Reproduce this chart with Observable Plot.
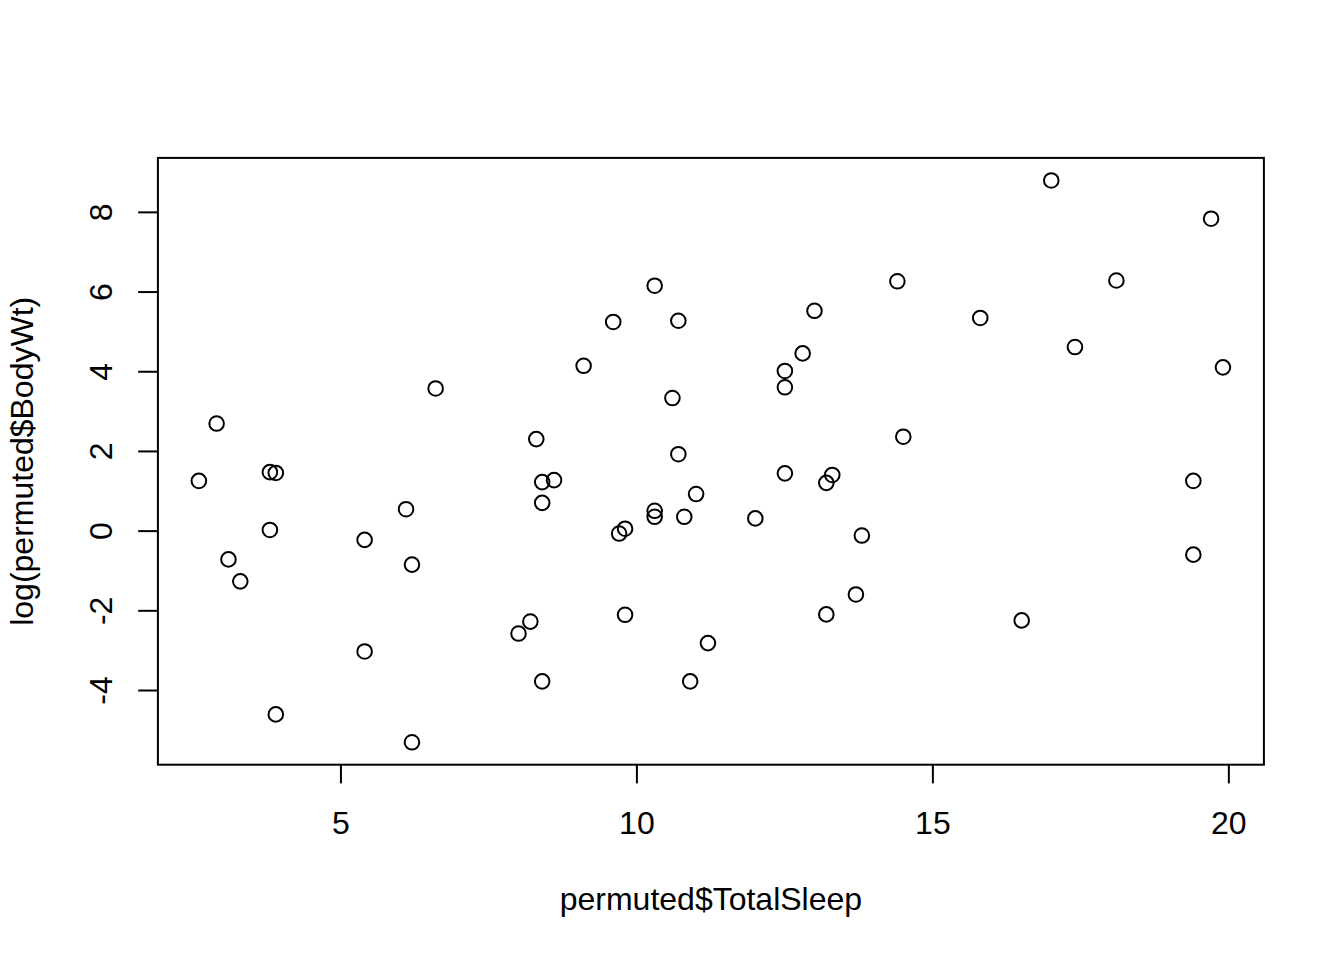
<!DOCTYPE html>
<html>
<head>
<meta charset="utf-8">
<script src="https://cdn.jsdelivr.net/npm/d3@7"></script>
<script src="https://cdn.jsdelivr.net/npm/@observablehq/plot@0.6"></script>
<style>
  html, body { margin: 0; padding: 0; background: white; }
  #chart svg { display: block; }
</style>
</head>
<body>
<div id="chart"></div>
<script>
const totalSleep = [2.6, 2.9, 3.1, 3.3, 3.8, 3.9, 3.8, 3.9, 5.4, 5.4, 6.1, 6.2, 6.2, 6.6, 8.0, 8.2, 8.3, 8.4, 8.6, 8.4, 8.4, 9.1, 9.6, 9.7, 9.8, 9.8, 10.3, 10.3, 10.3, 10.6, 10.7, 10.7, 10.8, 10.9, 11.0, 11.2, 12.0, 12.5, 12.5, 12.5, 12.8, 13.0, 13.2, 13.3, 13.2, 13.7, 13.8, 14.4, 14.5, 15.8, 16.5, 17.0, 17.4, 18.1, 19.4, 19.4, 19.7, 19.9];
const logBodyWt = [1.26, 2.70, -0.71, -1.26, 1.48, 1.46, 0.03, -4.60, -0.22, -3.02, 0.55, -0.84, -5.30, 3.58, -2.57, -2.27, 2.31, 1.23, 1.28, 0.71, -3.77, 4.15, 5.25, -0.06, 0.06, -2.10, 6.16, 0.51, 0.36, 3.34, 5.28, 1.93, 0.36, -3.77, 0.93, -2.81, 0.32, 4.02, 3.61, 1.45, 4.46, 5.53, 1.21, 1.41, -2.09, -1.59, -0.11, 6.27, 2.37, 5.35, -2.24, 8.80, 4.62, 6.29, 1.26, -0.59, 7.84, 4.11];
const xTicks = [5, 10, 15, 20];
const yTicks = [-4, -2, 0, 2, 4, 6, 8];
const xLabel = "permuted$TotalSleep";
const yLabel = "log(permuted$BodyWt)";

const data = totalSleep.map((s, i) => ({sleep: s, bw: logBodyWt[i]}));

const chart = Plot.plot({
  width: 1344,
  height: 960,
  marginLeft: 157.4,
  marginRight: 80.6,
  marginTop: 157.4,
  marginBottom: 195.8,
  style: {fontFamily: "'Liberation Sans', Arial, Helvetica, sans-serif", fontSize: "32px", background: "white", color: "black"},
  x: {domain: [1.908, 20.592], axis: null},
  y: {domain: [-5.862, 9.367], axis: null},
  marks: [
    Plot.frame({stroke: "black", strokeWidth: 2}),
    Plot.axisX({ticks: xTicks, tickSize: 19.2, tickPadding: 27.6, tickFormat: d => String(d), fontSize: 32, strokeWidth: 2, label: null}),
    Plot.axisY({ticks: yTicks, tickSize: 19.2, tickPadding: 26.2, tickRotate: -90, tickFormat: d => String(d), fontSize: 32, strokeWidth: 2, label: null}),
    Plot.dot(data, {x: "sleep", y: "bw", r: 7.3, stroke: "black", strokeWidth: 2, fill: "none"}),
    Plot.text([xLabel], {frameAnchor: "bottom", dy: 144.8, lineAnchor: "bottom", textAnchor: "middle", text: d => d, fontSize: 32}),
    Plot.text([yLabel], {frameAnchor: "left", dx: -124.4, rotate: -90, lineAnchor: "bottom", textAnchor: "middle", text: d => d, fontSize: 32})
  ]
});
document.getElementById("chart").appendChild(chart);
</script>
</body>
</html>
